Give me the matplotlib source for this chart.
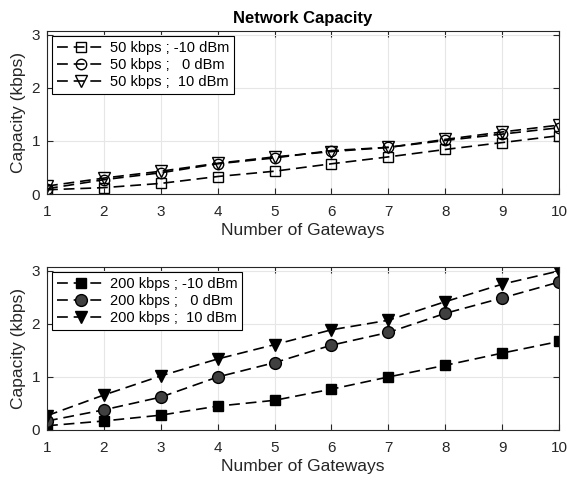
import matplotlib
matplotlib.use("Agg")
import matplotlib.pyplot as plt

plt.rcParams['font.family'] = ['Liberation Sans', 'DejaVu Sans']
plt.rcParams['text.color'] = '0.15'
plt.rcParams['axes.labelcolor'] = '0.15'

gateways = [1, 2, 3, 4, 5, 6, 7, 8, 9, 10]

# 50 kbps series
cap_50_m10 = [0.08, 0.12, 0.20, 0.33, 0.43, 0.57, 0.70, 0.84, 0.97, 1.10]
cap_50_0 = [0.10, 0.27, 0.40, 0.57, 0.68, 0.82, 0.88, 1.01, 1.13, 1.25]
cap_50_10 = [0.15, 0.30, 0.43, 0.58, 0.70, 0.80, 0.88, 1.03, 1.17, 1.30]

# 200 kbps series
cap_200_m10 = [0.08, 0.17, 0.28, 0.45, 0.56, 0.77, 1.00, 1.22, 1.45, 1.67]
cap_200_0 = [0.17, 0.38, 0.62, 1.00, 1.27, 1.60, 1.84, 2.20, 2.49, 2.79]
cap_200_10 = [0.27, 0.66, 1.02, 1.34, 1.61, 1.89, 2.07, 2.42, 2.75, 3.00]

labels_50 = ['50 kbps ; -10 dBm', '50 kbps ;   0 dBm', '50 kbps ;  10 dBm']
labels_200 = ['200 kbps ; -10 dBm', '200 kbps ;   0 dBm', '200 kbps ;  10 dBm']

fig = plt.figure(figsize=(5.67, 4.82), dpi=100)
ax1 = fig.add_axes([0.0829, 0.5975, 0.9030, 0.3382])
ax2 = fig.add_axes([0.0829, 0.1079, 0.9030, 0.3382])

dash = (0, (6.5, 3.5))


def draw(ax, y, marker, ms, fc, label):
    ax.plot(gateways, y, color='black', linestyle=dash, linewidth=1.2,
            marker=marker, markersize=ms, mfc=fc, mec='black', mew=1.0, label=label)


draw(ax1, cap_50_m10, 's', 6.5, 'none', labels_50[0])
draw(ax1, cap_50_0, 'o', 7.5, 'none', labels_50[1])
draw(ax1, cap_50_10, 'v', 8.5, 'none', labels_50[2])

draw(ax2, cap_200_m10, 's', 6.5, 'black', labels_200[0])
draw(ax2, cap_200_0, 'o', 8.5, '0.25', labels_200[1])
draw(ax2, cap_200_10, 'v', 9, 'black', labels_200[2])

for ax in (ax1, ax2):
    ax.set_xlim(1, 10)
    ax.set_ylim(0, 3.075)
    ax.set_xticks(gateways)
    ax.set_yticks([0, 1, 2, 3])
    ax.grid(True, color='0.9', linewidth=0.8)
    ax.set_axisbelow(True)
    ax.tick_params(direction='in', top=True, right=True, labelsize=11, length=4,
                   color='0.15', labelcolor='0.15')
    ax.tick_params(axis='x', pad=8)
    ax.tick_params(axis='y', pad=5)
    for s in ax.spines.values():
        s.set_linewidth(0.8)
        s.set_color('0.15')
    ax.set_xlabel('Number of Gateways', fontsize=12.5, labelpad=3)
    ax.set_ylabel('Capacity (kbps)', fontsize=12.5, labelpad=4)
    leg = ax.legend(loc='upper left', fontsize=10.5, frameon=True, fancybox=False,
                    edgecolor='black', framealpha=1, handlelength=3.3, handletextpad=0.3,
                    borderpad=0.35, labelspacing=0.2, borderaxespad=0.35)
    leg.get_frame().set_linewidth(0.8)
    for t in leg.get_texts():
        t.set_color('black')

ax1.set_title('Network Capacity', fontsize=12, fontweight='bold', pad=6, color='black')

fig.savefig('out.png', dpi=100)
